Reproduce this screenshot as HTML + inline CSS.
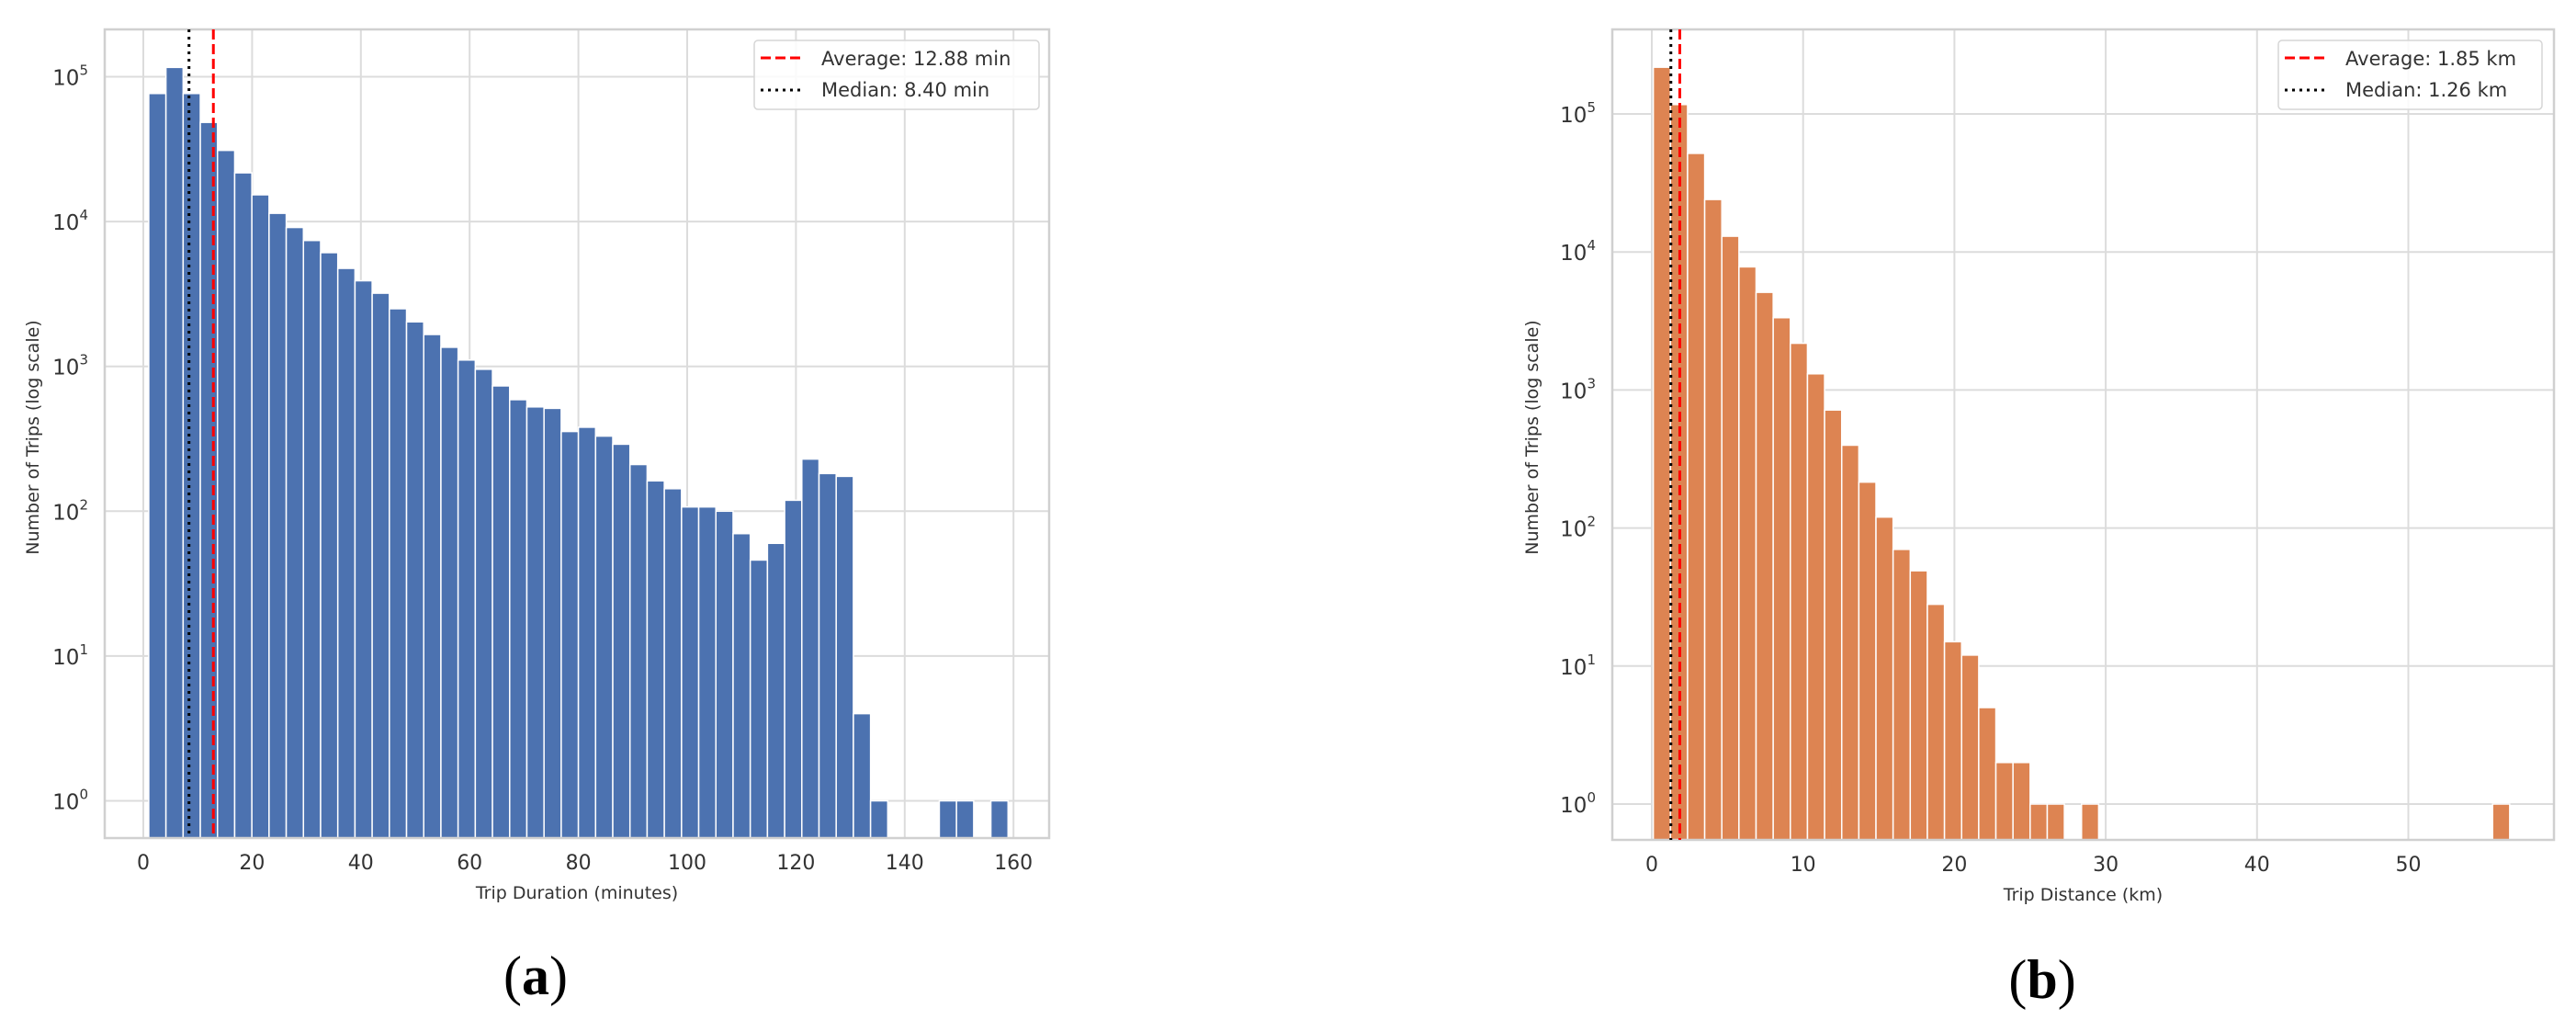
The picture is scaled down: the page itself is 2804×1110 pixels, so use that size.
<!DOCTYPE html>
<html><head><meta charset="utf-8">
<style>
html,body{margin:0;padding:0;background:#fff;}
svg{display:block;}
text{font-family:"DejaVu Sans","Liberation Sans",sans-serif;fill:#333;}
</style></head>
<body>
<svg id="fig" width="2804" height="1110" viewBox="0 0 2804 1110" xmlns="http://www.w3.org/2000/svg">
  <g id="chartA"></g>
  <g id="chartB"></g>
  <text x="583" y="1082" text-anchor="middle" style="font-family:'Liberation Serif',serif;font-size:60px;fill:#000">(<tspan font-weight="bold">a</tspan>)</text>
  <text x="2223" y="1086" text-anchor="middle" style="font-family:'Liberation Serif',serif;font-size:60px;fill:#000">(<tspan font-weight="bold">b</tspan>)</text>
</svg>
<script>
// ---- Chart A data (trip duration, minutes) ----
const durBinStart = 1;
const durBinWidth = 3.16;
const durCounts = [76600,116000,76600,48400,31000,21700,15300,11400,9100,7400,
  6100,4750,3900,3200,2500,2030,1660,1355,1106,955,
  733,589,525,513,355,380,330,290,210,162,
  143,107,107,100,70,46,60,119,229,182,
  174,4,1,0,0,0,1,1,0,1];
const durXTicks = [0,20,40,60,80,100,120,140,160];
const durMean = 12.88;
const durMedian = 8.40;
const durLegend = ["Average: 12.88 min","Median: 8.40 min"];

// ---- Chart B data (trip distance, km) ----
const distBinStart = 0.1;
const distBinWidth = 1.132;
const distCounts = [218000,117000,51800,24000,13000,7800,5100,3340,2180,1310,
  716,398,215,120,70,49,28,15,12,5,
  2,2,1,1,0,1,0,0,0,0,
  0,0,0,0,0,0,0,0,0,0,
  0,0,0,0,0,0,0,0,0,1];
const distXTicks = [0,10,20,30,40,50];
const distMean = 1.85;
const distMedian = 1.26;
const distLegend = ["Average: 1.85 km","Median: 1.26 km"];

const yDecades = [0,1,2,3,4,5];
const NS = "http://www.w3.org/2000/svg";

function mk(parent, tag, attrs){
  const e = document.createElementNS(NS, tag);
  for (const k in attrs) e.setAttribute(k, attrs[k]);
  parent.appendChild(e);
  return e;
}

function drawChart(g, cfg){
  const xs = v => cfg.x0 + (v - cfg.xmin) * cfg.pxPer;
  const ys = v => cfg.y5 + (5 - Math.log10(v)) * cfg.dec;
  const L = cfg.left, R = cfg.right, T = cfg.top, B = cfg.bottom;

  const bg = mk(g,'rect',{x:L,y:T,width:R-L,height:B-T,fill:'#fff',stroke:'none'});
  
  

  yDecades.forEach(d => {
    const y = ys(Math.pow(10,d));
    const ln = mk(g,'line',{x1:L,x2:R,y1:y,y2:y,stroke:'#dcdcdc','stroke-width':2});
    
    
    const t = mk(g,'text',{x:L-18,y:y+9,'text-anchor':'end','font-size':23});
    
    
    t.textContent = '10';
    const sup = mk(t,'tspan',{dy:-11,'font-size':15});
    sup.textContent = String(d);
  });
  cfg.ticks.forEach(v => {
    const x = xs(v);
    const ln = mk(g,'line',{x1:x,x2:x,y1:T,y2:B,stroke:'#dcdcdc','stroke-width':2});
    
    
    const t = mk(g,'text',{x:x,y:B+34,'text-anchor':'middle','font-size':22});
    
    
    t.textContent = String(v);
  });

  cfg.counts.forEach((c,i) => {
    if (c <= 0) return;
    const a = cfg.binStart + i*cfg.binWidth;
    const x1 = xs(a), x2 = xs(a + cfg.binWidth);
    const y = ys(c);
    const r = mk(g,'rect',{x:x1,y:y,width:x2-x1,height:B-y,fill:cfg.color,stroke:'#fff','stroke-width':1.5});
    
    
  });

  const fr = mk(g,'rect',{x:L,y:T,width:R-L,height:B-T,fill:'none',stroke:'#d0d0d0','stroke-width':2.5});
  
  

  const mx = xs(cfg.mean);
  const ml = mk(g,'line',{x1:mx,x2:mx,y1:T,y2:B,stroke:'#ff0000','stroke-width':3,'stroke-dasharray':'11,5'});
  
  
  const dx = xs(cfg.median);
  const dl = mk(g,'line',{x1:dx,x2:dx,y1:T,y2:B,stroke:'#000','stroke-width':3,'stroke-dasharray':'3,5'});
  
  

  const lg = mk(g,'g',{});
  
  
  const lb = mk(lg,'rect',{x:cfg.legX,y:T+12,width:cfg.legW,height:75,rx:4,fill:'#fff','fill-opacity':0.85,stroke:'#d6d6d6','stroke-width':1.5});
  
  
  const hx = cfg.legX + 7;
  const l1 = mk(lg,'line',{x1:hx,x2:hx+48,y1:T+31,y2:T+31,stroke:'#ff0000','stroke-width':3,'stroke-dasharray':'11,5'});
  
  
  const t1 = mk(lg,'text',{x:hx+66,y:T+39,'font-size':21});
  
  
  t1.textContent = cfg.legend[0];
  const l2 = mk(lg,'line',{x1:hx,x2:hx+48,y1:T+66,y2:T+66,stroke:'#000','stroke-width':3,'stroke-dasharray':'3,5'});
  
  
  const t2 = mk(lg,'text',{x:hx+66,y:T+73,'font-size':21});
  
  
  t2.textContent = cfg.legend[1];

  const xt = mk(g,'text',{x:(L+R)/2,y:B+66,'text-anchor':'middle','font-size':19});
  
  
  xt.textContent = cfg.xlabel;
  const yt = mk(g,'text',{x:0,y:0,'text-anchor':'middle','font-size':19,transform:'translate('+cfg.ylabX+',476) rotate(-90)'});
  
  
  yt.textContent = 'Number of Trips (log scale)';
}

drawChart(document.getElementById('chartA'), {
  left:114, right:1142, top:32, bottom:912,
  x0:156, xmin:0, pxPer:5.92, y5:83.5, dec:157.6,
  ticks:durXTicks, counts:durCounts, binStart:durBinStart, binWidth:durBinWidth,
  color:'#4c72b0', mean:durMean, median:durMedian, legend:durLegend,
  legX:821, legW:310, xlabel:'Trip Duration (minutes)', ylabX:42
});
drawChart(document.getElementById('chartB'), {
  left:1755, right:2780, top:32, bottom:914,
  x0:1798, xmin:0, pxPer:16.47, y5:124, dec:150.2,
  ticks:distXTicks, counts:distCounts, binStart:distBinStart, binWidth:distBinWidth,
  color:'#dd8452', mean:distMean, median:distMedian, legend:distLegend,
  legX:2480, legW:287, xlabel:'Trip Distance (km)', ylabX:1674
});
</script>
</body></html>
